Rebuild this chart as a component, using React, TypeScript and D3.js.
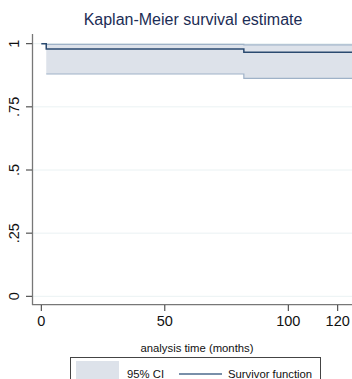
import { useEffect, useRef } from "react";
import * as d3 from "d3";

// Kaplan-Meier step data (months)
const times = [0, 2, 82, 127];
const survival = [1, 0.979, 0.966, 0.966];
const ciTimes = [2, 82, 127];
const ciLower = [0.88, 0.863, 0.863];
const ciUpper = [0.997, 0.995, 0.995];

const xTicks = [0, 50, 100, 120];
const yTicks = [0, 0.25, 0.5, 0.75, 1];
const yTickLabels = ["0", ".25", ".5", ".75", "1"];

const width = 352;
const height = 379;

const App = () => {
  const svgRef = useRef<SVGSVGElement>(null);

  useEffect(() => {
    const svg = d3.select(svgRef.current);
    svg.selectAll("*").remove(); // clear

    const font = "Liberation Sans, Arial, sans-serif";
    const xScale = d3.scaleLinear().domain([0, 120]).range([41.3, 337.7]);
    const yScale = d3.scaleLinear().domain([0, 1]).range([296.3, 43.7]);

    svg.append("rect").attr("width", width).attr("height", height).attr("fill", "#fff");

    // title
    svg
      .append("text")
      .attr("x", 193)
      .attr("y", 25)
      .attr("text-anchor", "middle")
      .attr("font-family", font)
      .attr("font-size", 16)
      .attr("fill", "#1c2d55")
      .text("Kaplan-Meier survival estimate");

    // grid lines
    svg
      .append("g")
      .selectAll("line")
      .data(yTicks)
      .join("line")
      .attr("x1", 33)
      .attr("x2", width)
      .attr("y1", (d) => yScale(d))
      .attr("y2", (d) => yScale(d))
      .attr("stroke", "#eaf2f3")
      .attr("stroke-width", 1);

    // CI band
    const ciData = ciTimes.map((t, i) => ({ t, lo: ciLower[i], hi: ciUpper[i] }));
    const area = d3
      .area<{ t: number; lo: number; hi: number }>()
      .x((d) => xScale(d.t))
      .y0((d) => yScale(d.lo))
      .y1((d) => yScale(d.hi))
      .curve(d3.curveStepAfter);
    svg.append("path").datum(ciData).attr("fill", "#dde2ea").attr("d", area);

    const ciLine = (key: "lo" | "hi") =>
      d3
        .line<{ t: number; lo: number; hi: number }>()
        .x((d) => xScale(d.t))
        .y((d) => yScale(d[key]))
        .curve(d3.curveStepAfter);
    ["lo", "hi"].forEach((k) => {
      svg
        .append("path")
        .datum(ciData)
        .attr("fill", "none")
        .attr("stroke", "#9fb2c8")
        .attr("stroke-width", 1.2)
        .attr("d", ciLine(k as "lo" | "hi"));
    });

    // survivor function
    const sData = times.map((t, i) => ({ t, s: survival[i] }));
    const line = d3
      .line<{ t: number; s: number }>()
      .x((d) => xScale(d.t))
      .y((d) => yScale(d.s))
      .curve(d3.curveStepAfter);
    svg
      .append("path")
      .datum(sData)
      .attr("fill", "none")
      .attr("stroke", "#2a4a70")
      .attr("stroke-width", 1.5)
      .attr("d", line);

    // y axis
    svg
      .append("line")
      .attr("x1", 32.5)
      .attr("x2", 32.5)
      .attr("y1", 34)
      .attr("y2", 305)
      .attr("stroke", "#777")
      .attr("stroke-width", 1.3);
    const yg = svg.append("g");
    yg.selectAll("line")
      .data(yTicks)
      .join("line")
      .attr("x1", 26)
      .attr("x2", 32)
      .attr("y1", (d) => yScale(d))
      .attr("y2", (d) => yScale(d))
      .attr("stroke", "#333");
    yg.selectAll("text")
      .data(yTicks)
      .join("text")
      .attr("transform", (d) => `translate(18.5,${yScale(d)}) rotate(-90)`)
      .attr("text-anchor", "middle")
      .attr("font-family", font)
      .attr("font-size", 14.5)
      .attr("fill", "#111")
      .text((d, i) => yTickLabels[i]);

    // x axis
    svg
      .append("line")
      .attr("x1", 32)
      .attr("x2", width)
      .attr("y1", 304.7)
      .attr("y2", 304.7)
      .attr("stroke", "#777")
      .attr("stroke-width", 1.3);
    const xg = svg.append("g");
    xg.selectAll("line")
      .data(xTicks)
      .join("line")
      .attr("x1", (d) => xScale(d))
      .attr("x2", (d) => xScale(d))
      .attr("y1", 305)
      .attr("y2", 311)
      .attr("stroke", "#333");
    xg.selectAll("text")
      .data(xTicks)
      .join("text")
      .attr("x", (d) => xScale(d))
      .attr("y", 325.5)
      .attr("text-anchor", "middle")
      .attr("font-family", font)
      .attr("font-size", 14.5)
      .attr("fill", "#111")
      .text((d) => String(d));

    svg
      .append("text")
      .attr("x", 197)
      .attr("y", 352)
      .attr("text-anchor", "middle")
      .attr("font-family", font)
      .attr("font-size", 11.3)
      .attr("fill", "#111")
      .text("analysis time (months)");

    // legend
    const lg = svg.append("g");
    lg.append("rect")
      .attr("x", 70.5)
      .attr("y", 357.5)
      .attr("width", 250)
      .attr("height", 30)
      .attr("fill", "#fff")
      .attr("stroke", "#444");
    lg.append("rect")
      .attr("x", 76)
      .attr("y", 361)
      .attr("width", 43)
      .attr("height", 20)
      .attr("fill", "#dde2ea");
    lg.append("text")
      .attr("x", 127)
      .attr("y", 378)
      .attr("font-family", font)
      .attr("font-size", 11.3)
      .attr("fill", "#111")
      .text("95% CI");
    lg.append("line")
      .attr("x1", 179)
      .attr("x2", 222)
      .attr("y1", 374)
      .attr("y2", 374)
      .attr("stroke", "#4d6a8c")
      .attr("stroke-width", 1.3);
    lg.append("text")
      .attr("x", 228)
      .attr("y", 378)
      .attr("font-family", font)
      .attr("font-size", 11.3)
      .attr("fill", "#111")
      .text("Survivor function");
  }, []);

  return (
    <svg
      ref={svgRef}
      width={width}
      height={height}
      style={{ position: "absolute", left: 0, top: 0 }}
    ></svg>
  );
};

export default App;
